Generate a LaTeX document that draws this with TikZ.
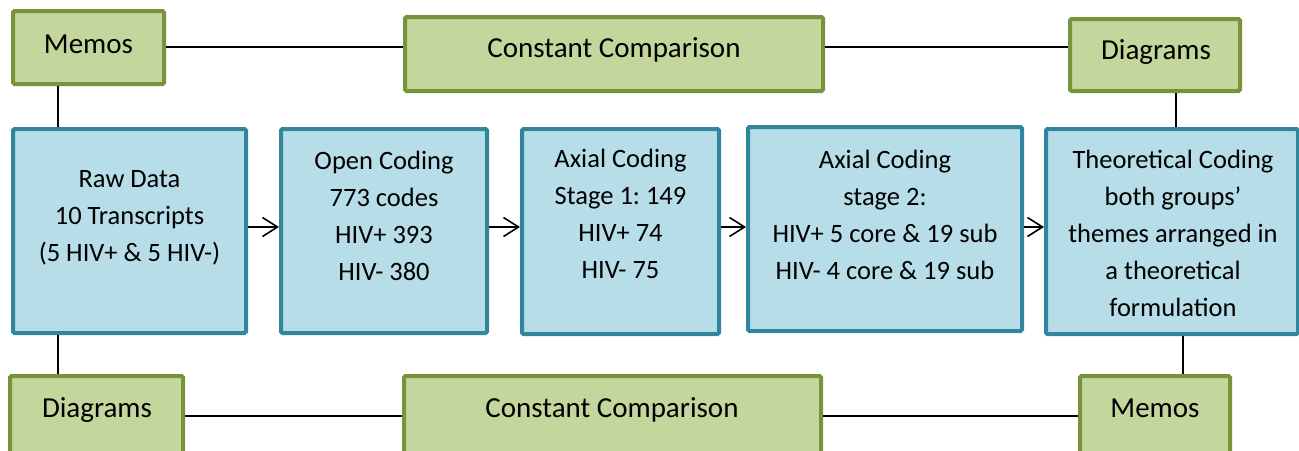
\documentclass[tikz,border=0pt]{standalone}
\usepackage{fontspec}
\setmainfont{Carlito}
\frenchspacing
\usetikzlibrary{arrows.meta}
\definecolor{gfill}{HTML}{C3D69B}
\definecolor{gline}{HTML}{77933C}
\definecolor{bfill}{HTML}{B7DDE8}
\definecolor{bline}{HTML}{31859C}
\begin{document}
\begin{tikzpicture}[x=1pt,y=-1pt,
  gbox/.style={draw=gline,fill=gfill,line width=4pt,rounded corners=1.5pt,inner sep=0pt},
  bbox/.style={draw=bline,fill=bfill,line width=4pt,rounded corners=1.5pt,inner sep=0pt},
  gtext/.style={inner sep=0pt,font=\fontsize{29}{35}\selectfont},
  btext/.style={inner sep=0pt,align=center,font=\fontsize{26.5}{37}\selectfont\frenchspacing},
  link/.style={line width=1.6pt},
  flow/.style={line width=1.6pt,-{Straight Barb[length=15pt,width=19pt,line width=1.6pt]}}]
\useasboundingbox (0,0) rectangle (1299,450);
% green boxes
\node[gbox,minimum width=151pt,minimum height=73pt] (memT) at (88.5,47.5) {};
\node[gbox,minimum width=418pt,minimum height=74pt] (ccT) at (614,54) {};
\node[gbox,minimum width=170pt,minimum height=72pt] (diaT) at (1155,55) {};
\node[gbox,minimum width=173pt,minimum height=80pt] (diaB) at (96.5,416) {};
\node[gbox,minimum width=417pt,minimum height=80pt] (ccB) at (612.5,416) {};
\node[gbox,minimum width=150pt,minimum height=80pt] (memB) at (1155,416) {};
% blue boxes
\node[bbox,minimum width=233pt,minimum height=204pt] (raw) at (129.5,231) {};
\node[bbox,minimum width=206pt,minimum height=204pt] (open) at (384,231) {};
\node[bbox,minimum width=197pt,minimum height=205pt] (ax1) at (620.5,231.5) {};
\node[bbox,minimum width=274pt,minimum height=204pt] (ax2) at (885,229) {};
\node[bbox,minimum width=252pt,minimum height=205pt] (theo) at (1172,231.5) {};
% texts
\node[gtext,anchor=base] (memTt) at (88.5,53) {Memos};
\node[gtext,anchor=base] (ccTt) at (614,57) {Constant Comparison};
\node[gtext,anchor=base] (diaTt) at (1156,59) {Diagrams};
\node[gtext,anchor=base] (diaBt) at (97,417) {Diagrams};
\node[gtext,anchor=base] (ccBt) at (612,417) {Constant Comparison};
\node[gtext,anchor=base] (memBt) at (1155,417) {Memos};
\node[btext] (rawt) at (129.5,217.5) {Raw Data\\10 Transcripts\\(5 HIV+ \& 5 HIV-)};
\node[btext] (opent) at (384,215.5) {Open Coding\\773 codes\\HIV+ 393\\HIV- 380};
\node[btext] (ax1t) at (620.5,214) {Axial Coding\\Stage 1: 149\\HIV+ 74\\HIV- 75};
\node[btext] (ax2t) at (885,215) {Axial Coding\\stage 2:\\HIV+ 5 core \& 19 sub\\HIV- 4 core \& 19 sub};
\node[btext] (theot) at (1173,233.5) {Theoretical Coding\\both groups’\\themes arranged in\\a theoretical\\formulation};
% helper coordinates
\coordinate (yT) at (0,47);
\coordinate (yB) at (0,416);
\coordinate (yA) at (0,227);
\coordinate (xL) at (58,0);
\coordinate (xR1) at (1176,0);
\coordinate (xR2) at (1183,0);
% connectors
\draw[link] (memT.east |- yT) -- (ccT.west |- yT);
\draw[link] (ccT.east |- yT) -- (diaT.west |- yT);
\draw[link] (diaB.east |- yB) -- (ccB.west |- yB);
\draw[link] (ccB.east |- yB) -- (memB.west |- yB);
\draw[link] (memT.south -| xL) -- (raw.north -| xL);
\draw[link] (raw.south -| xL) -- (diaB.north -| xL);
\draw[link] (diaT.south -| xR1) -- (theo.north -| xR1);
\draw[link] (theo.south -| xR2) -- (memB.north -| xR2);
\draw[flow] (raw.east |- yA) -- (open.west |- yA);
\draw[flow] (open.east |- yA) -- (ax1.west |- yA);
\draw[flow] (ax1.east |- yA) -- (ax2.west |- yA);
\draw[flow] (ax2.east |- yA) -- (theo.west |- yA);
\end{tikzpicture}
\end{document}
